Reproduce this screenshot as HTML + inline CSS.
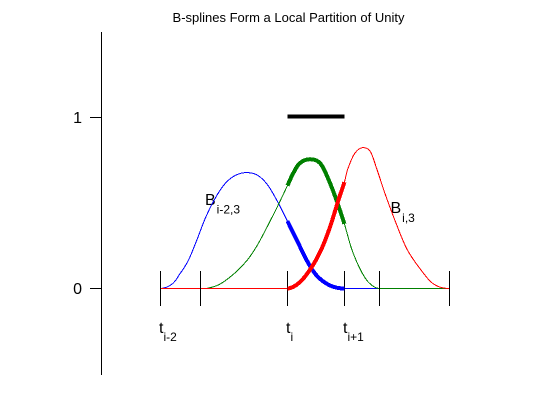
<!DOCTYPE html>
<html>
<head>
<meta charset="utf-8">
<title>B-splines Form a Local Partition of Unity</title>
<style>
html,body{margin:0;padding:0;background:#fff;}
svg{display:block;}
text{font-family:"Liberation Sans",Arial,sans-serif;fill:#000;}
</style>
</head>
<body>
<svg id="chart" width="560" height="420" viewBox="0 0 560 420" xmlns="http://www.w3.org/2000/svg">
<rect width="560" height="420" fill="#fff"/>
<text x="288.5" y="22" font-size="13" text-anchor="middle">B-splines Form a Local Partition of Unity</text>
<text x="205" y="205" font-size="16">B<tspan font-size="12" dx="1" dy="8.5">i-2,3</tspan></text>
<text x="390.5" y="213" font-size="16">B<tspan font-size="12" dx="1" dy="9">i,3</tspan></text>
</svg>
<script>
var yTicks = [0, 1];
var knots = [0, 1.40, 4.41, 6.38, 7.59, 10];
var knotLabels = [["t", "i-2"], null, ["t", "i"], ["t", "i+1"], null, null];
var unityLevel = [1, 1];

var blueT = [0, 0.42, 0.69, 0.98, 1.27, 1.56, 1.90, 2.25, 2.60, 3.01, 3.39, 3.74, 4.08, 4.41, 4.74, 5.08, 5.42, 5.88, 6.38, 7.59];
var blueB = [0, 0.026, 0.086, 0.164, 0.281, 0.408, 0.525, 0.613, 0.661, 0.678, 0.661, 0.602, 0.504, 0.394, 0.281, 0.164, 0.076, 0.018, 0, 0];

var greenT = [1.40, 1.66, 2.08, 2.60, 3.01, 3.36, 3.70, 4.08, 4.41, 4.61, 4.84, 5.19, 5.54, 5.82, 6.11, 6.38, 6.63, 6.92, 7.21, 7.59, 10];
var greenB = [0, 0.002, 0.026, 0.092, 0.164, 0.251, 0.358, 0.485, 0.602, 0.674, 0.733, 0.756, 0.733, 0.642, 0.515, 0.378, 0.232, 0.115, 0.037, 0, 0];

var redT = [0, 4.41, 4.84, 5.25, 5.59, 5.88, 6.17, 6.38, 6.50, 6.73, 6.99, 7.27, 7.50, 7.79, 8.13, 8.54, 9.00, 9.46, 10];
var redB = [0, 0, 0.037, 0.125, 0.232, 0.358, 0.515, 0.622, 0.700, 0.788, 0.823, 0.803, 0.700, 0.553, 0.398, 0.232, 0.115, 0.027, 0];

function xScale(t) { return 160 + t * 28.9; }
function yScale(v) { return 288.5 - v * 171; }

var svg = document.getElementById('chart');
var NS = 'http://www.w3.org/2000/svg';

function make(tag, attrs) {
  var el = document.createElementNS(NS, tag);
  for (var k in attrs) el.setAttribute(k, attrs[k]);
  svg.appendChild(el);
  return el;
}

function smoothPath(ts, vs, a, b) {
  var pts = ts.map(function (t, i) { return [xScale(t), yScale(vs[i])]; });
  var d = '';
  for (var i = 0; i < pts.length - 1; i++) {
    if (ts[i] < a || ts[i + 1] > b) continue;
    var p1 = pts[i], p2 = pts[i + 1];
    var p0 = pts[Math.max(i - 1, 0)], p3 = pts[Math.min(i + 2, pts.length - 1)];
    var c1x = p1[0] + (p2[0] - p0[0]) / 6, c1y = p1[1] + (p2[1] - p0[1]) / 6;
    var c2x = p2[0] - (p3[0] - p1[0]) / 6, c2y = p2[1] - (p3[1] - p1[1]) / 6;
    if (p1[1] === p2[1]) { c1y = p1[1]; c2y = p1[1]; c1x = p1[0]; c2x = p2[0]; }
    else {
      if (p0[1] === p1[1]) { c1y = p1[1]; c1x = p1[0] + (p2[0] - p1[0]) / 3; }
      if (p2[1] === p3[1]) { c2y = p2[1]; c2x = p2[0] - (p2[0] - p1[0]) / 3; }
    }
    if (d === '') d = 'M' + p1[0].toFixed(2) + ' ' + p1[1].toFixed(2);
    d += 'C' + c1x.toFixed(2) + ' ' + c1y.toFixed(2) + ' ' + c2x.toFixed(2) + ' ' + c2y.toFixed(2) + ' ' + p2[0].toFixed(2) + ' ' + p2[1].toFixed(2);
  }
  return d;
}

function thinCurve(ts, vs, color) {
  return make('path', { d: smoothPath(ts, vs, -Infinity, Infinity), fill: 'none', stroke: color, 'stroke-width': 1, 'shape-rendering': 'crispEdges' });
}

function thickCurve(ts, vs, color) {
  return make('path', { d: smoothPath(ts, vs, knots[2], knots[3]), fill: 'none', stroke: color, 'stroke-width': 4, 'shape-rendering': 'crispEdges' });
}

var yAxis = make('line', { x1: 101.5, x2: 101.5, y1: 32, y2: 375, stroke: '#000', 'stroke-width': 1 });



yTicks.forEach(function (v) {
  var tick = make('line', { x1: 90, x2: 101, y1: yScale(v), y2: yScale(v), stroke: '#000', 'stroke-width': 1 });
  
  
  var label = make('text', { x: 82, y: yScale(v) + 5.5, 'font-size': 16, 'text-anchor': 'end' });
  label.textContent = String(v);
  
  
});

var thinBlue = thinCurve(blueT, blueB, '#0000ff');


var thinGreen = thinCurve(greenT, greenB, '#008000');


var thinRed = thinCurve(redT, redB, '#ff0000');



knots.forEach(function (t, i) {
  var x = Math.round(xScale(t)) + 0.5;
  var tick = make('line', { x1: x, x2: x, y1: 271, y2: 306, stroke: '#000', 'stroke-width': 1 });
  
  
  var pair = knotLabels[i];
  if (pair) {
    var label = make('text', { x: x - 1.5, y: 333, 'font-size': 16 });
    
    
    var main = document.createElementNS(NS, 'tspan');
    main.textContent = pair[0];
    label.appendChild(main);
    var sub = document.createElementNS(NS, 'tspan');
    sub.setAttribute('font-size', '12');
    sub.setAttribute('dy', '8');
    sub.textContent = pair[1];
    label.appendChild(sub);
  }
});

var thickBlue = thickCurve(blueT, blueB, '#0000ff');


var thickGreen = thickCurve(greenT, greenB, '#008000');


var thickRed = thickCurve(redT, redB, '#ff0000');



var unity = make('line', { x1: xScale(knots[2]), x2: xScale(knots[3]), y1: yScale(unityLevel[0]) - 0.8, y2: yScale(unityLevel[1]) - 0.8, stroke: '#000', 'stroke-width': 4, 'shape-rendering': 'crispEdges' });


</script>
</body>
</html>
